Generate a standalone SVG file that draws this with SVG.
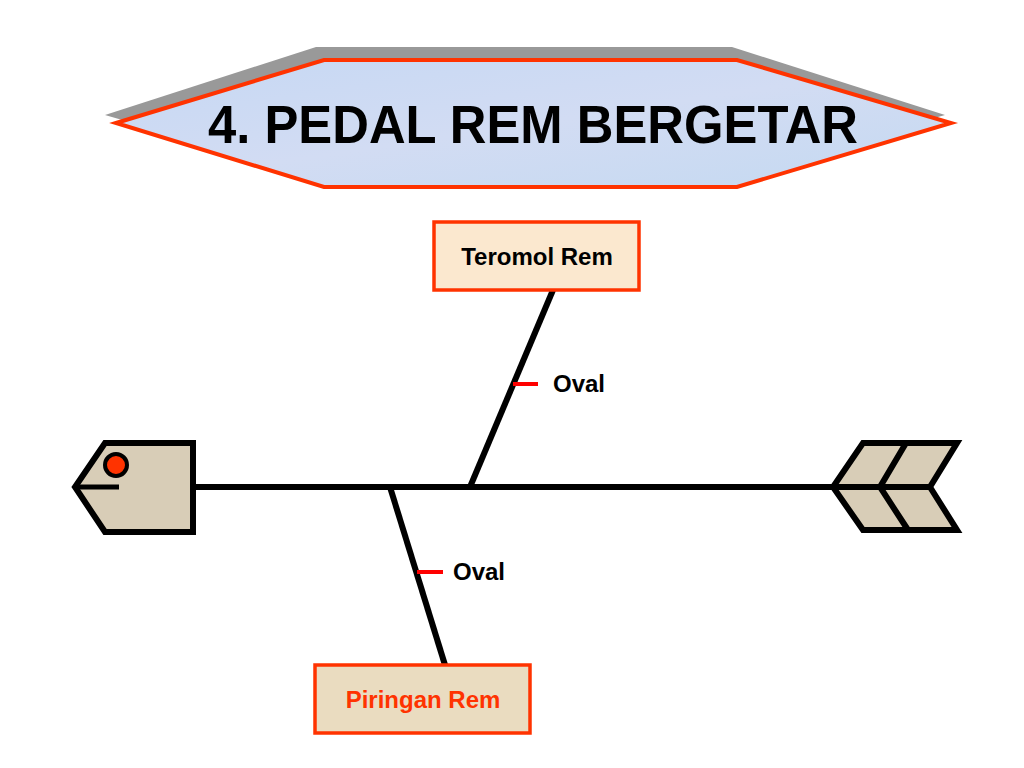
<svg xmlns="http://www.w3.org/2000/svg" width="1024" height="768" viewBox="0 0 1024 768">
<defs>
<style>
.bone{stroke:#000;stroke-width:6;fill:none;stroke-linecap:butt}
.tick{stroke:#ff0000;stroke-width:4;fill:none}
.lbl{font-family:"Liberation Sans",Arial,sans-serif;font-weight:bold;font-size:24px;fill:#000}
.box{stroke:#ff3300;stroke-width:3.5}
.fish{fill:#d8cdb7;stroke:#000;stroke-width:6;stroke-linejoin:miter}
</style>
<linearGradient id="sky" x1="0" y1="0" x2="1" y2="1">
<stop offset="0" stop-color="#c6d8f3"/>
<stop offset="0.5" stop-color="#d2dcf3"/>
<stop offset="1" stop-color="#c4d9f1"/>
</linearGradient>
</defs>
<rect width="1024" height="768" fill="#fff"/>
<g id="title">
<polygon points="105,115 316,47 732,47 945,115 732,176 316,176" fill="#999"/>
<polygon points="116,123 324,60 737,60 951,123 737,187 324,187" fill="url(#sky)" stroke="#ff3300" stroke-width="4"/>
<text x="208" y="143" textLength="650" lengthAdjust="spacingAndGlyphs" font-family="Liberation Sans,Arial,sans-serif" font-weight="bold" font-size="53" fill="#000">4. PEDAL REM BERGETAR</text>
</g>
<g id="connectors">
<line class="bone" x1="190" y1="487" x2="930" y2="487"/>
<line class="bone" x1="470" y1="487" x2="553" y2="290"/>
<line class="bone" x1="390" y1="487" x2="445" y2="665"/>
<line class="tick" x1="513" y1="384" x2="538" y2="384"/>
<line class="tick" x1="417" y1="572" x2="443" y2="572"/>
</g>
<g id="head">
<polygon class="fish" points="105,443 193,443 193,532 105,532 75,487"/>
<line x1="75" y1="487" x2="119" y2="487" stroke="#000" stroke-width="5"/>
<circle cx="116" cy="465" r="11" fill="#ff3300" stroke="#000" stroke-width="4"/>
</g>
<g id="tail">
<polygon class="fish" points="863,443 957,443 930,487 957,530 863,530 833,487"/>
<polyline points="906,443 880,487 908,530" fill="none" stroke="#000" stroke-width="6"/>
<line x1="833" y1="487" x2="930" y2="487" stroke="#000" stroke-width="6"/>
</g>
<g id="teromol">
<rect class="box" x="434" y="222" width="205" height="68" fill="#fbe8cf"/>
<text class="lbl" x="537" y="265" text-anchor="middle">Teromol Rem</text>
</g>
<g id="piringan">
<rect class="box" x="315" y="665" width="215" height="68" fill="#eadcc0"/>
<text class="lbl" x="423" y="708" text-anchor="middle" style="fill:#ff3300">Piringan Rem</text>
</g>
<g id="oval1">
<text class="lbl" x="553" y="392">Oval</text>
</g>
<g id="oval2">
<text class="lbl" x="453" y="580">Oval</text>
</g>
</svg>
